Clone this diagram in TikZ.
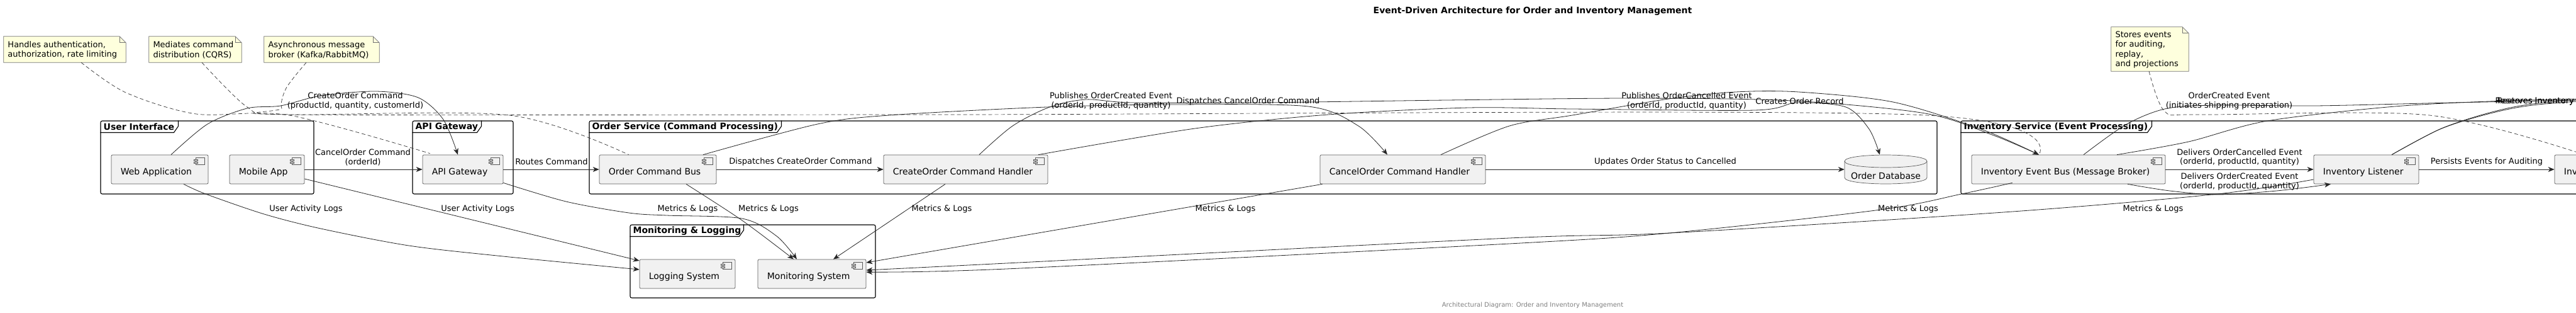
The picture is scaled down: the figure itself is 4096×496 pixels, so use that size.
\documentclass[tikz,border=0pt]{standalone}
\usepackage{fontspec}
\setmainfont{DejaVu Sans}
\usetikzlibrary{arrows.meta}
\definecolor{boxfill}{HTML}{F1F1F1}
\definecolor{notefill}{HTML}{FEFFDD}

\newcommand\myicon[1]{%
  \draw[iconst] ([shift={(-20,5)}]#1.north east) rectangle ([shift={(-6,16)}]#1.north east);
  \draw[iconst] ([shift={(-23,7.5)}]#1.north east) rectangle ([shift={(-17,10)}]#1.north east);
  \draw[iconst] ([shift={(-23,11.5)}]#1.north east) rectangle ([shift={(-17,14)}]#1.north east);
}
\newcommand\mycomp[5]{% name, cx, w, cy, text
  \node[comp, minimum width=#3pt] (#1) at (#2,#4) {};
  \myicon{#1}
  \node[ctext, anchor=base west] (#1t) at ([shift={(15,8.5)}]#1.west) {#5};
}
\newcommand\mynote[6]{% name, cx, cy, w, h, text
  \node[minimum width=#4pt, minimum height=#5pt, inner sep=0pt] (#1) at (#2,#3) {};
  \filldraw[notest] (#1.north west) -- ([shift={(-10,0)}]#1.north east) -- ([shift={(0,10)}]#1.north east) -- (#1.south east) -- (#1.south west) -- cycle;
  \draw[notest, fill=none] ([shift={(-10,0)}]#1.north east) |- ([shift={(0,10)}]#1.north east);
  \node[notetext, anchor=west] (#1t) at ([shift={(6.5,1)}]#1.west) {#6};
}
\newcommand\mypkg[7]{% name, cx, cy, w, h, tabw, label
  \node[framest, minimum width=#4pt, minimum height=#5pt] (#1) at (#2,#3) {};
  \draw[tabst] ([shift={(0,19)}]#1.north west) -- ([shift={({#6-7},19)}]#1.north west) -- ([shift={(#6,9)}]#1.north west) -- ([shift={(#6,0)}]#1.north west);
  \node[ftext, anchor=west] (#1t) at ([shift={(5,10)}]#1.north west) {#7};
}

\begin{document}
\begin{tikzpicture}[x=1pt,y=-1pt,
  comp/.style={draw=black!65, fill=boxfill, line width=0.7pt, rounded corners=2pt, minimum height=46pt, inner sep=0pt},
  iconst/.style={draw=black!65, fill=boxfill, line width=0.6pt},
  ctext/.style={font=\fontsize{14}{16}\selectfont, inner sep=0pt},
  framest/.style={draw=black, line width=1.1pt, rounded corners=2.5pt, inner sep=0pt},
  tabst/.style={draw=black, line width=1.1pt},
  ftext/.style={font=\bfseries\fontsize{14}{16}\selectfont, inner sep=0pt},
  lbl/.style={font=\fontsize{13}{14.5}\selectfont, inner sep=0pt, align=center},
  notest/.style={draw=black!55, fill=notefill, line width=0.7pt},
  notetext/.style={font=\fontsize{13}{15.3}\selectfont, inner sep=0pt, align=left},
  conn/.style={draw=black!85, line width=0.8pt, -{Stealth[length=10pt,width=8pt,inset=3pt]}},
  link/.style={draw=black!85, line width=0.8pt},
  notelink/.style={draw=black!80, line width=0.7pt, dash pattern=on 6pt off 4pt},
  dbst/.style={draw=black!65, fill=boxfill, line width=0.7pt}
]
\useasboundingbox (0,0) rectangle (4096,496);
\fill[white] (0,0) rectangle (4096,496);
\clip (0,0) rectangle (4096,496);

% title and footer
\node[font=\bfseries\fontsize{14}{16}\selectfont, inner sep=0pt] (title) at (2437,18) {Event-Driven Architecture for Order and Inventory Management};
\node[font=\fontsize{10}{12}\selectfont, text=black!50, inner sep=0pt] (footer) at (2437,485) {Architectural Diagram: Order and Inventory Management};

% packages
\mypkg{uif}{329.5}{250}{339}{116}{124}{User Interface}
\mypkg{gwf}{736}{250}{160}{116}{110}{API Gateway}
\mypkg{osf}{2008.5}{250}{2143}{116}{306}{Order Service (Command Processing)}
\mypkg{isf}{3759}{250}{1282}{116}{304}{Inventory Service (Event Processing)}
\mypkg{mlf}{1197}{415}{390}{116}{181}{Monitoring \& Logging}

% components
\mycomp{web}{254}{154}{269}{Web Application}
\mycomp{mob}{424.5}{119}{269}{Mobile App}
\mycomp{gw}{736}{128}{269}{API Gateway}
\mycomp{ocb}{1046}{186}{269}{Order Command Bus}
\mycomp{coh}{1535.5}{261}{269}{CreateOrder Command Handler}
\mycomp{cah}{2230.5}{263}{269}{CancelOrder Command Handler}
\mycomp{ieb}{3289}{308}{269}{Inventory Event Bus (Message Broker)}
\mycomp{il}{3762.5}{167}{269}{Inventory Listener}
\mycomp{ies}{4162}{200}{269}{Inv}
\mycomp{logs}{1093}{152}{435}{Logging System}
\mycomp{mon}{1291}{172}{435}{Monitoring System}

% database
\node[minimum width=131pt, minimum height=46pt, inner sep=0pt] (odb) at (2998.5,269) {};
\filldraw[dbst] (2933,256) -- (2933,282) .. controls (2933,295.3) and (3064,295.3) .. (3064,282) -- (3064,256) .. controls (3064,242.7) and (2933,242.7) .. cycle;
\draw[dbst, fill=none] (2933,256) .. controls (2933,269.3) and (3064,269.3) .. (3064,256);
\node[ctext, anchor=base] (odbt) at (2998.5,284) {Order Database};

% notes
\mynote{n1}{103}{78.5}{194}{41}{Handles authentication,\\authorization, rate limiting}
\mynote{n2}{310.5}{78.5}{147}{41}{Mediates command\\distribution (CQRS)}
\mynote{n3}{511.5}{78.5}{183}{41}{Asynchronous message\\broker (Kafka/RabbitMQ)}
\mynote{n4}{3418.5}{78}{123}{70}{Stores events\\for auditing,\\replay,\\and projections}

% coordinates
\coordinate (e1s) at ([shift={(18,0)}]web.north);
\coordinate (e1t) at ([shift={(-8,0)}]gw.north);
\coordinate (e5s) at ([shift={(72,0)}]ocb.north);
\coordinate (e5t) at ([shift={(-24.5,0)}]cah.north);
\coordinate (e8s) at ([shift={(21.5,0)}]coh.north);
\coordinate (iebin) at ([shift={(-47,0)}]ieb.north);
\coordinate (e9s) at ([shift={(60.5,0)}]cah.north);
\coordinate (e6s) at ([shift={(115.5,0)}]coh.north);
\coordinate (e6t) at ([shift={(-9.5,0)}]odb.north);
\coordinate (e15s) at ([shift={(24,0)}]ieb.north);
\coordinate (e16s) at ([shift={(77,0)}]ieb.north);
\coordinate (e12s) at ([shift={(40.5,0)}]il.north);
\coordinate (e10s) at ([shift={(94,0)}]ieb.south);
\coordinate (e10t) at ([shift={(-56.5,0)}]il.south);
\coordinate (offA) at (4200,157);
\coordinate (offB) at (4200,155);
\coordinate (offC) at (4200,154);
\coordinate (offD) at (4200,151);
\coordinate (wls) at ([shift={(38,0)}]web.south);
\coordinate (wlt) at ([shift={(0,-7)}]logs.west);
\coordinate (mls) at ([shift={(0,15)}]mob.east);
\coordinate (mlt) at ([shift={(0,-21)}]logs.west);
\coordinate (gms) at ([shift={(0,-2)}]gw.south east);
\coordinate (gmt) at ([shift={(-24,0)}]mon.north);
\coordinate (oms) at ([shift={(45,0)}]ocb.south);
\coordinate (omt) at ([shift={(-29,0)}]mon.north);
\coordinate (cms) at ([shift={(-32.5,0)}]coh.south);
\coordinate (cmt) at ([shift={(34,0)}]mon.north);
\coordinate (kms) at ([shift={(4,0)}]cah.south west);
\coordinate (kmt) at ([shift={(0,-18)}]mon.east);
\coordinate (ims) at ([shift={(65,-2)}]ieb.south west);
\coordinate (imt) at ([shift={(0,-3)}]mon.east);
\coordinate (lms) at ([shift={(0,16)}]il.west);
\coordinate (lmt) at ([shift={(0,-6)}]mon.east);
\coordinate (n1s) at ([shift={(26,0)}]n1.south);
\coordinate (n1t) at ([shift={(12,-2)}]gw.north west);
\coordinate (n2s) at ([shift={(10.5,0)}]n2.south);
\coordinate (n2t) at ([shift={(47,0)}]ocb.north west);
\coordinate (n3s) at ([shift={(-24.5,0)}]n3.south);
\coordinate (n4s) at ([shift={(-1.5,0)}]n4.south);
\coordinate (n4t) at ([shift={(48,0)}]ies.north west);

% note links
\draw[notelink] plot[smooth] coordinates {(n1s) (200,147) (312,181) (460,183) (n1t)};
\draw[notelink] plot[smooth] coordinates {(n2s) (393,170) (450,182) (810,183) (n2t)};
\draw[notelink] plot[smooth] coordinates {(n3s) (455,140) (448,172) (475,182) (1500,182) (3040,182) (iebin)};
\draw[notelink] plot[smooth] coordinates {(n4s) (3442,177) (3500,182) (3863,183) (n4t)};

% straight connectors
\draw[conn] (mob.east) -- (gw.west);
\draw[conn] (gw.east) -- (ocb.west);
\draw[conn] (ocb.east) -- (coh.west);
\draw[conn] (cah.east) -- (odb.west);
\draw[conn] (ieb.east) -- (il.west);
\draw[conn] (il.east) -- (ies.west);

% curved connectors
\draw[conn] plot[smooth] coordinates {(e1s) (330,197) (393,172) (446,168) (510,152) (598,145) (665,155) (705,190) (e1t)};
\draw[conn] plot[smooth] coordinates {(e5s) (1300,197) (1414,183) (1664,170) (1865,166) (2080,169) (2160,200) (e5t)};
\draw[conn] plot[smooth] coordinates {(e8s) (1610,200) (1669,170) (1727,158) (1800,163) (2000,163) (2300,159) (2600,156) (2850,160) (3061,180) (3170,215) (iebin)};
\draw[conn] plot[smooth] coordinates {(e9s) (2400,200) (2500,183) (2653,157) (2760,146) (2860,146) (3010,162) (3150,205) (iebin)};
\draw[conn] plot[smooth] coordinates {(e6s) (1900,204) (2112,182) (2336,171) (2500,173) (2790,175) (2857,163) (2935,170) (2972,205) (e6t)};
\draw[conn] plot[smooth] coordinates {(e10s) (3450,303) (3526,309) (3620,303) (e10t)};
\draw[link] plot[smooth] coordinates {(e15s) (3380,198) (3442,173) (3520,167) (3681,168) (3900,163) (offA)};
\draw[link] plot[smooth] coordinates {(e16s) (3480,225) (3605,192) (3808,169) (3985,160) (offB)};
\draw[link] plot[smooth] coordinates {(e12s) (3880,205) (3960,180) (4036,166) (offC)};
\draw[link] plot[smooth] coordinates {(e12s) (3882,204) (3962,178) (4036,164) (offD)};

% logs & metrics
\draw[conn] plot[smooth] coordinates {(wls) (327,308) (420,340) (510,363) (650,390) (800,407) (wlt)};
\draw[conn] (mls) -- (mlt);
\draw[conn] plot[smooth] coordinates {(gms) (900,320) (1000,338) (1060,342) (1180,347) (1235,375) (gmt)};
\draw[conn] plot[smooth] coordinates {(oms) (1180,350) (omt)};
\draw[conn] (cms) -- (cmt);
\draw[conn] (kms) -- (kmt);
\draw[conn] plot[smooth] coordinates {(ims) (3119,308) (2990,333) (2655,370) (2400,387) (1600,427) (imt)};
\draw[conn] plot[smooth] coordinates {(lms) (3526,308) (3200,336) (2655,370) (2400,378) (1600,418) (lmt)};

% edge labels
\node[lbl] (l1) at (565,160.5) {CreateOrder Command\\(productId, quantity, customerId)};
\node[lbl] (l2) at (577,250) {CancelOrder Command\\(orderId)};
\node[lbl] (l3) at (877,257) {Routes Command};
\node[lbl] (l4) at (1273,257) {Dispatches CreateOrder Command};
\node[lbl] (l5) at (1984.5,161) {Dispatches CancelOrder Command};
\node[lbl] (l6) at (2861.5,161) {Creates Order Record};
\node[lbl] (l7) at (2648,257) {Updates Order Status to Cancelled};
\node[lbl] (l8) at (1766.5,160.5) {Publishes OrderCreated Event\\(orderId, productId, quantity)};
\node[lbl] (l9) at (2682,160.5) {Publishes OrderCancelled Event\\(orderId, productId, quantity)};
\node[lbl] (l10) at (3561,288.5) {Delivers OrderCreated Event\\(orderId, productId, quantity)};
\node[lbl] (l11) at (3561,250) {Delivers OrderCancelled Event\\(orderId, productId, quantity)};
\node[lbl] (l14) at (3954,257) {Persists Events for Auditing};
\node[lbl] (l15) at (3544.5,160.5) {OrderCreated Event\\(initiates shipping preparation)};
\node[lbl, anchor=east] (l12) at (4093,161) {Reserves Inventory};
\node[lbl, anchor=east] (l13) at (4093,161) {Restores Inventory};
\node[lbl] (l16) at (486.5,332) {User Activity Logs};
\node[lbl] (l17) at (759.5,332) {User Activity Logs};
\node[lbl] (l18) at (1093.5,332) {Metrics \& Logs};
\node[lbl] (l19) at (1222,332) {Metrics \& Logs};
\node[lbl] (l20) at (1497.5,332) {Metrics \& Logs};
\node[lbl] (l21) at (1948.5,332) {Metrics \& Logs};
\node[lbl] (l22) at (3034,332) {Metrics \& Logs};
\node[lbl] (l23) at (3423.5,332) {Metrics \& Logs};
\end{tikzpicture}
\end{document}
